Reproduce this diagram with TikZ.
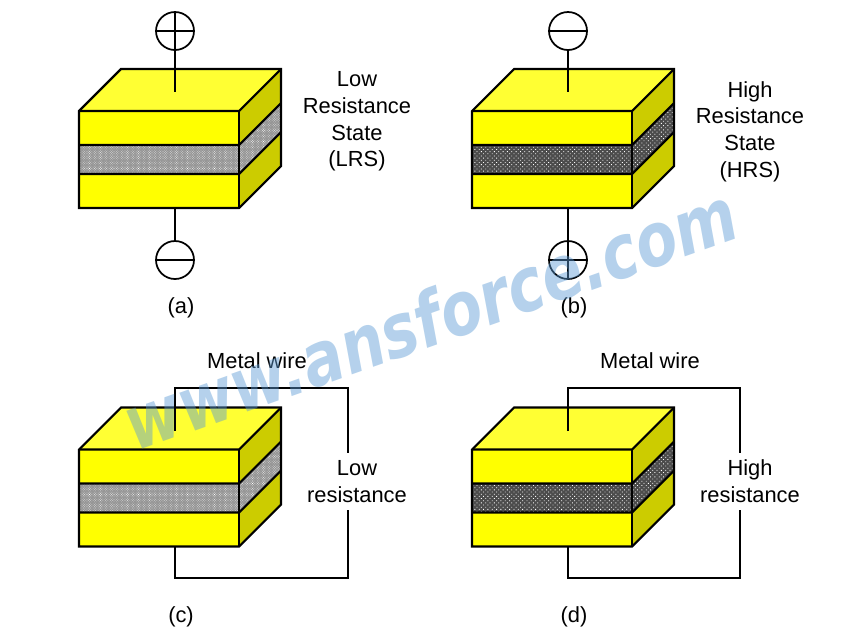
\documentclass[tikz,border=0pt]{standalone}
\usepackage{fontspec}
\setmainfont{Liberation Sans}
\newfontfamily\wmfont{DejaVu Sans}
\usetikzlibrary{patterns.meta}
\definecolor{yfront}{HTML}{FFFF00}
\definecolor{ytop}{HTML}{FFFF33}
\definecolor{yside}{HTML}{CCCC00}
\definecolor{wm}{HTML}{5B9BD5}
\tikzset{
  x=0.75pt,y=-0.75pt,
  edge/.style={draw=black,line width=1.6pt,line join=miter},
  wire/.style={draw=black,line width=1.4pt},
  lbl/.style={font=\fontsize{16.4}{20}\selectfont,align=center,inner sep=1pt,text=black},
  lblbox/.style={lbl,fill=white,inner sep=1pt,minimum height=43pt},
  lrs/.style={fill=black!42},
  hrs/.style={fill=black!70},
  hrsdots/.style={pattern={Dots[radius=0.45pt,distance=2.3pt,angle=45]},pattern color=white},
  lrsdots/.style={pattern={Dots[radius=0.3pt,distance=1.3pt,angle=45]},pattern color=white},
  term/.style={circle,draw=black,fill=white,line width=1.3pt,minimum size=28.5pt,inner sep=0pt,outer sep=0pt},
}
% #1 x of front-left, #2 y of front-top, #3 layer style, #4 dot style
\newcommand{\rblock}[4]{%
  \begin{scope}[shift={(#1,#2)}]
    \fill[ytop] (0,0) -- (42,-42) -- (202,-42) -- (160,0) -- cycle;
    \fill[yfront] (0,0) rectangle (160,97);
    \fill[yside] (160,0) -- (202,-42) -- (202,55) -- (160,97) -- cycle;
    \fill[#3] (0,34) rectangle (160,63);
    \fill[#4] (0,34) rectangle (160,63);
    \fill[#3] (160,34) -- (202,-8) -- (202,21) -- (160,63) -- cycle;
    \fill[#4] (160,34) -- (202,-8) -- (202,21) -- (160,63) -- cycle;
    \draw[edge] (0,0) -- (42,-42) -- (202,-42) -- (202,55) -- (160,97) -- (0,97) -- cycle;
    \draw[edge] (0,0) -- (160,0) -- (202,-42);
    \draw[edge] (160,0) -- (160,97);
    \draw[edge] (0,34) -- (160,34) -- (202,-8);
    \draw[edge] (0,63) -- (160,63) -- (202,21);
  \end{scope}%
}
\begin{document}
\begin{tikzpicture}
\useasboundingbox (0,0) rectangle (860,633);
\fill[white] (0,0) rectangle (860,633);

% (a)
\rblock{79}{111}{lrs}{lrsdots}
\coordinate (aTopEnd) at (175,92);
\coordinate (aBotEnd) at (175,208);
\node[term] (aPlus) at (175,31) {};
\node[term] (aMinus) at (175,260) {};
\draw[wire] (aPlus.north) -- (aPlus.south) -- (aTopEnd);
\draw[wire] (aPlus.west) -- (aPlus.east);
\draw[wire] (aBotEnd) -- (aMinus.north);
\draw[wire] (aMinus.west) -- (aMinus.east);
\node[lbl] (aText) at (357,121.5) {Low\\Resistance\\State\\(LRS)};
\node[lbl] (aCap) at (181,308) {(a)};

% (b)
\rblock{472}{111}{hrs}{hrsdots}
\coordinate (bTopEnd) at (568,92);
\coordinate (bBotEnd) at (568,208);
\node[term] (bMinus) at (568,31) {};
\node[term] (bPlus) at (568,260) {};
\draw[wire] (bMinus.south) -- (bTopEnd);
\draw[wire] (bMinus.west) -- (bMinus.east);
\draw[wire] (bBotEnd) -- (bPlus.south);
\draw[wire] (bPlus.west) -- (bPlus.east);
\node[lbl] (bText) at (750,131.5) {High\\Resistance\\State\\(HRS)};
\node[lbl] (bCap) at (574,308) {(b)};

% (c)
\rblock{79}{449.5}{lrs}{lrsdots}
\coordinate (cTopEnd) at (175,431);
\coordinate (cBotEnd) at (175,546);
\coordinate (cA) at (175,388);
\coordinate (cB) at (348,388);
\coordinate (cC) at (348,578);
\coordinate (cD) at (175,578);
\draw[wire] (cTopEnd) -- (cA) -- (cB) -- (cC) -- (cD) -- (cBotEnd);
\node[lblbox] (cText) at (357,481.5) {Low\\resistance};
\node[lbl] (cWire) at (257,361) {Metal wire};
\node[lbl] (cCap) at (181,617) {(c)};

% (d)
\rblock{472}{449.5}{hrs}{hrsdots}
\coordinate (dTopEnd) at (568,431);
\coordinate (dBotEnd) at (568,546);
\coordinate (dA) at (568,388);
\coordinate (dB) at (740,388);
\coordinate (dC) at (740,578);
\coordinate (dD) at (568,578);
\draw[wire] (dTopEnd) -- (dA) -- (dB) -- (dC) -- (dD) -- (dBotEnd);
\node[lblbox] (dText) at (750,481.5) {High\\resistance};
\node[lbl] (dWire) at (650,361) {Metal wire};
\node[lbl] (dCap) at (574,617) {(d)};

% watermark
\node[rotate=19.5,xscale=0.81,text=wm,opacity=0.45,font=\wmfont\fontsize{56}{56}\bfseries\itshape\selectfont,inner sep=0pt] (wmark) at (430,318) {www.ansforce.com};
\end{tikzpicture}
\end{document}
